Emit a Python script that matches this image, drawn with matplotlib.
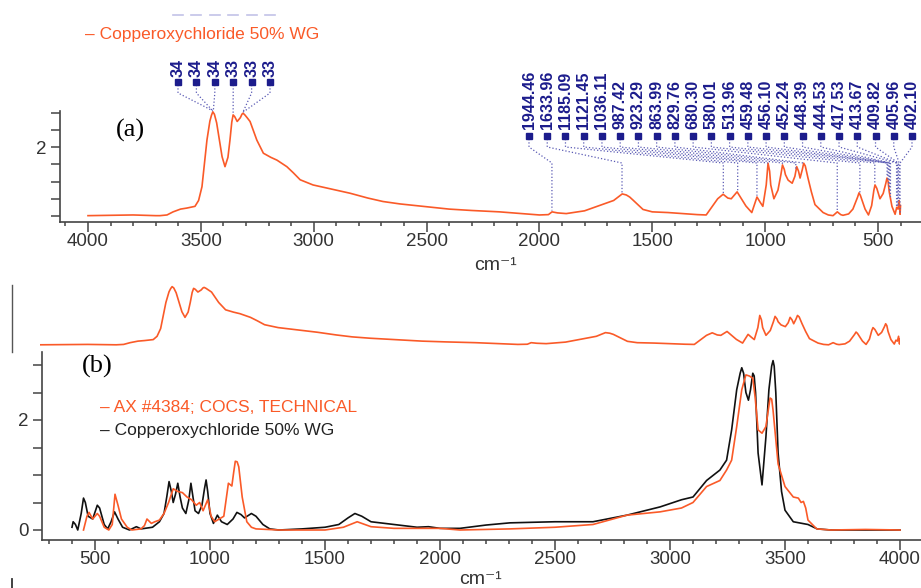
import numpy as np
import matplotlib
matplotlib.use("Agg")
import matplotlib.pyplot as plt
from matplotlib.lines import Line2D

# spectrum (a): Copperoxychloride 50% WG
a_wn = [4000, 3900, 3800, 3700, 3681, 3650, 3623, 3590, 3562, 3526, 3510, 3495, 3473, 3460,
        3453, 3447, 3440, 3430, 3406, 3393, 3380, 3371, 3363, 3357, 3350, 3339, 3325, 3318,
        3313, 3305, 3295, 3282, 3252, 3223, 3190, 3163, 3119, 3090, 3060, 3003, 2920, 2839,
        2760, 2693, 2618, 2500, 2400, 2300, 2177, 2080, 2000, 1960, 1944, 1920, 1881, 1800,
        1735, 1671, 1645, 1633, 1615, 1600, 1585, 1541, 1500, 1430, 1364, 1300, 1261, 1232,
        1210, 1186, 1165, 1150, 1124, 1105, 1085, 1059, 1036, 1022, 1010, 995, 987, 980, 975,
        961, 943, 930, 923, 915, 910, 898, 880, 868, 860, 852, 845, 835, 829, 822, 810, 795,
        779, 743, 720, 699, 680, 665, 655, 630, 611, 590, 584, 578, 570, 557, 542, 528, 518,
        513, 505, 491, 477, 465, 460, 455, 450, 438, 424, 417, 411, 406, 402, 400]
a_abs = [0.01, 0.02, 0.03, 0.01, 0.01, 0.03, 0.12, 0.20, 0.23, 0.28, 0.45, 0.85, 2.20, 2.75,
         2.92, 3.02, 2.95, 2.70, 1.72, 1.43, 1.70, 2.20, 2.72, 2.93, 2.88, 2.74, 2.85, 2.95,
         2.98, 2.93, 2.85, 2.74, 2.20, 1.82, 1.70, 1.62, 1.43, 1.25, 1.05, 0.90, 0.78, 0.66,
         0.52, 0.42, 0.35, 0.27, 0.20, 0.16, 0.12, 0.07, 0.03, 0.04, 0.12, 0.09, 0.07, 0.15,
         0.30, 0.45, 0.58, 0.64, 0.61, 0.55, 0.46, 0.19, 0.12, 0.10, 0.07, 0.04, 0.03, 0.30,
         0.50, 0.63, 0.52, 0.50, 0.70, 0.50, 0.29, 0.10, 0.55, 0.40, 0.28, 0.90, 1.53, 1.30,
         0.90, 0.50, 0.75, 1.20, 1.48, 1.35, 1.20, 1.04, 0.95, 1.15, 1.43, 1.30, 1.10, 1.35,
         1.53, 1.45, 1.10, 0.70, 0.33, 0.10, 0.03, 0.01, 0.12, 0.04, 0.02, 0.06, 0.20, 0.55,
         0.67, 0.60, 0.45, 0.20, 0.03, 0.30, 0.75, 0.90, 0.80, 0.50, 0.65, 0.95, 1.10, 1.00,
         0.70, 0.28, 0.05, 0.25, 0.20, 0.45, 0.05, 0.30]

# peak labels in (a)
left_labels = ["34", "34", "34", "33", "33", "33"]
left_peaks = [3447, 3446, 3445, 3357, 3314, 3313]
right_labels = ["1944.46", "1633.96", "1185.09", "1121.45", "1036.11", "987.42", "923.29",
                "863.99", "829.76", "680.30", "580.01", "513.96", "459.48", "456.10",
                "452.24", "448.39", "444.53", "417.53", "413.67", "409.82", "405.96", "402.10"]
right_peaks = [1944.46, 1633.96, 1185.09, 1121.45, 1036.11, 987.42, 923.29, 863.99, 829.76,
               680.30, 580.01, 513.96, 459.48, 456.10, 452.24, 448.39, 444.53, 417.53,
               413.67, 409.82, 405.96, 402.10]

# spectrum (b): black = Copperoxychloride 50% WG, orange = AX #4384
b_wn = [400, 405, 415, 425, 440, 450, 458, 470, 490, 510, 520, 540, 555, 570, 585, 600, 620,
        650, 680, 700, 750, 780, 800, 812, 822, 832, 840, 850, 860, 870, 880, 895, 908, 917,
        926, 935, 950, 965, 976, 983, 990, 1000, 1015, 1032, 1050, 1075, 1100, 1117, 1135,
        1150, 1180, 1200, 1230, 1260, 1300, 1400, 1500, 1560, 1600, 1630, 1660, 1700, 1800,
        1900, 1950, 2000, 2087, 2200, 2304, 2400, 2500, 2665, 2813, 2957, 3050, 3100, 3159,
        3217, 3246, 3268, 3290, 3305, 3312, 3320, 3330, 3341, 3350, 3360, 3366, 3372, 3383,
        3400, 3417, 3430, 3442, 3448, 3453, 3460, 3470, 3485, 3500, 3536, 3600, 3640, 3700,
        3850, 4000]
b_abs = [0.05, 0.15, 0.10, 0.00, 0.30, 0.58, 0.50, 0.25, 0.20, 0.45, 0.40, 0.10, 0.02, 0.15,
         0.33, 0.20, 0.05, 0.00, 0.06, 0.02, 0.05, 0.15, 0.30, 0.60, 0.88, 0.70, 0.50, 0.65,
         0.85, 0.60, 0.40, 0.30, 0.55, 0.85, 0.60, 0.35, 0.30, 0.45, 0.75, 0.91, 0.70, 0.30,
         0.12, 0.27, 0.15, 0.10, 0.20, 0.32, 0.28, 0.22, 0.30, 0.25, 0.10, 0.02, 0.00, 0.02,
         0.05, 0.10, 0.22, 0.30, 0.25, 0.15, 0.10, 0.05, 0.06, 0.03, 0.03, 0.09, 0.13, 0.14,
         0.15, 0.15, 0.27, 0.42, 0.55, 0.60, 0.90, 1.09, 1.27, 1.82, 2.55, 2.85, 2.95, 2.85,
         2.50, 2.36, 2.55, 2.85, 2.80, 2.50, 1.40, 0.82, 1.69, 2.55, 2.98, 3.08, 2.98, 2.50,
         1.40, 0.70, 0.36, 0.15, 0.10, 0.02, 0.00, 0.00, 0.00]

c_wn = [450, 465, 474, 490, 510, 520, 540, 560, 575, 587, 600, 615, 640, 660, 700, 715, 726,
        745, 760, 780, 800, 820, 840, 860, 880, 900, 920, 940, 955, 970, 990, 1005, 1020, 1040,
        1060, 1080, 1095, 1103, 1110, 1118, 1125, 1140, 1160, 1180, 1200, 1300, 1500, 1580,
        1640, 1700, 1800, 2000, 2087, 2304, 2500, 2665, 2813, 2957, 3050, 3100, 3159, 3217,
        3246, 3268, 3290, 3312, 3330, 3345, 3360, 3370, 3383, 3400, 3417, 3428, 3435, 3442,
        3448, 3470, 3500, 3536, 3558, 3570, 3580, 3590, 3600, 3638, 3700, 3850, 4000]
c_abs = [0.00, 0.25, 0.32, 0.20, 0.30, 0.25, 0.05, 0.00, 0.10, 0.65, 0.45, 0.20, 0.05, 0.00,
         0.02, 0.08, 0.20, 0.12, 0.15, 0.18, 0.30, 0.50, 0.75, 0.70, 0.68, 0.60, 0.55, 0.45,
         0.50, 0.35, 0.55, 0.25, 0.15, 0.20, 0.25, 0.85, 0.80, 1.05, 1.25, 1.24, 1.15, 0.60,
         0.15, 0.05, 0.02, 0.00, 0.00, 0.05, 0.15, 0.06, 0.03, 0.03, 0.00, 0.02, 0.05, 0.10,
         0.27, 0.33, 0.40, 0.50, 0.79, 0.90, 1.09, 1.27, 1.88, 2.55, 2.82, 2.80, 2.76, 2.42,
         1.82, 1.76, 1.88, 2.20, 2.40, 2.38, 2.18, 1.20, 0.79, 0.60, 0.58, 0.50, 0.52, 0.40,
         0.18, 0.02, 0.00, 0.01, 0.00]

ORANGE = "#fa5a28"
NAVY = "#1c1c8c"
W, H = 921, 588

plt.rcParams["font.family"] = ["Liberation Sans", "DejaVu Sans"]

fig = plt.figure(figsize=(W / 100, H / 100), dpi=100)


def px_axes(left, top, right, bottom):
    return fig.add_axes([left / W, 1 - bottom / H, (right - left) / W, (bottom - top) / H])


def style_axis(ax):
    for s in ("top", "right"):
        ax.spines[s].set_visible(False)
    for s in ("left", "bottom"):
        ax.spines[s].set_color("#444444")
        ax.spines[s].set_linewidth(1.2)
    ax.tick_params(axis="both", which="both", direction="out", colors="#444444", width=1.1,
                   labelcolor="#333333", labelsize=13.5)
    ax.tick_params(axis="x", which="major", length=7, pad=1)
    ax.tick_params(axis="x", which="minor", length=3)
    ax.tick_params(axis="y", which="major", length=6.5, pad=3)
    ax.set_facecolor("none")


# ---------- panel (a) ----------
ax1 = px_axes(60, 0, 921, 222)
ax1.plot(a_wn, a_abs, color=ORANGE, lw=1.2, solid_joinstyle="round")
# pixel <-> data for this panel: x = 88 + (4000 - w) * 0.2257, y = 216 - v * 34.5
ax1.set_xlim(4000 + 28 / 0.2257, 4000 - 833 / 0.2257)
ax1.set_ylim((216 - 222) / 34.5, 216 / 34.5)
style_axis(ax1)
ax1.spines["left"].set_bounds((216 - 222) / 34.5, 3.03)
ax1.set_xticks(np.arange(4000, 499, -500))
ax1.set_xticks(np.arange(4100, 399, -100), minor=True)
ax1.set_yticks(np.arange(0, 3.01, 0.5))
ax1.set_yticklabels(["", "", "", "", "2", "", ""])


def va(y_px):
    return (216 - y_px) / 34.5


def wa(x_px):
    return 4000 - (x_px - 88) / 0.2257


lab_font = dict(color=NAVY, fontsize=11.5, fontweight="bold", rotation=90,
                ha="center", va="bottom")
line_kw = dict(color="#5a5ab4", lw=0.9, ls=":", clip_on=False)

# left cluster
for lab, pk, xp in zip(left_labels, left_peaks, np.linspace(178, 270, len(left_labels))):
    xw = wa(xp)
    top_v = np.interp(pk, a_wn[::-1], a_abs[::-1]) + 0.03
    ax1.plot([xw, xw, pk], [va(85), va(93), top_v], **line_kw)
    ax1.plot(xw, va(82), marker="s", ms=4.5, color=NAVY, clip_on=False)
    ax1.text(xw, va(77), lab, **lab_font)
    # clipped remains of the labels at the very top
    ax1.plot([wa(xp - 5), wa(xp + 5)], [va(15), va(15)], color="#9a9ad8", lw=1.2,
             alpha=0.6, clip_on=False)

# right cluster
for lab, pk, xp in zip(right_labels, right_peaks, np.linspace(529, 912, len(right_labels))):
    xw = wa(xp)
    top_v = np.interp(pk, a_wn[::-1], a_abs[::-1]) + 0.04
    knee_v = va(163)
    ys = [va(139), va(147), knee_v]
    xs = [xw, xw, pk]
    if top_v < knee_v:
        xs.append(pk)
        ys.append(top_v)
    ax1.plot(xs, ys, **line_kw)
    ax1.plot(xw, va(136), marker="s", ms=4.5, color=NAVY, clip_on=False)
    ax1.text(xw, va(129), lab, **lab_font)

fig.text(85 / W, 1 - 35 / H, "– Copperoxychloride 50% WG", color=ORANGE, fontsize=12.5,
         ha="left", va="center")
fig.text(130 / W, 1 - 130 / H, "(a)", family="Liberation Serif", fontsize=19,
         ha="center", va="center")
fig.text(495 / W, 1 - 266 / H, "cm⁻¹", fontsize=14, color="#333333",
         ha="center", va="center")

# ---------- middle strip (same spectrum, cropped) ----------
ax2 = px_axes(40, 276, 900, 352)
ax2.plot(a_wn, a_abs, color=ORANGE, lw=1.2, solid_joinstyle="round")
ax2.set_xlim(4000, 400)
ax2.set_ylim(-(352 - 345) / 19.33, (345 - 276) / 19.33)
ax2.axis("off")
fig.add_artist(Line2D([12 / W, 12 / W], [1 - 285 / H, 1 - 352 / H], color="#555555", lw=1))
fig.add_artist(Line2D([12 / W, 12 / W], [1 - 579 / H, 1 - 588 / H], color="#333333", lw=1.3))

# ---------- panel (b) ----------
ax3 = px_axes(42, 352, 921, 540)
ax3.plot(b_wn, b_abs, color="#111111", lw=1.2, zorder=3, solid_joinstyle="round")
ax3.plot(c_wn, c_abs, color=ORANGE, lw=1.2, zorder=4, solid_joinstyle="round")
ax3.set_xlim(500 - 53 / 0.23, 500 + 826 / 0.23)
ax3.set_ylim(-10 / 55, 178 / 55)
style_axis(ax3)
ax3.set_xticks(np.arange(500, 4001, 500))
ax3.set_xticks(np.arange(300, 4001, 100), minor=True)
ax3.set_yticks(np.arange(0, 3.01, 0.5))
ax3.set_yticklabels(["0", "", "", "", "2", "", ""])

fig.text(100 / W, 1 - 408 / H, "– AX #4384; COCS, TECHNICAL", color=ORANGE, fontsize=12.5,
         ha="left", va="center")
fig.text(100 / W, 1 - 430 / H, "– Copperoxychloride 50% WG", color="#222222", fontsize=12.5,
         ha="left", va="center")
fig.text(97 / W, 1 - 366 / H, "(b)", family="Liberation Serif", fontsize=19,
         ha="center", va="center")
fig.text(480 / W, 1 - 580 / H, "cm⁻¹", fontsize=14, color="#333333",
         ha="center", va="center")

fig.savefig("out.png", dpi=100, facecolor="white")
